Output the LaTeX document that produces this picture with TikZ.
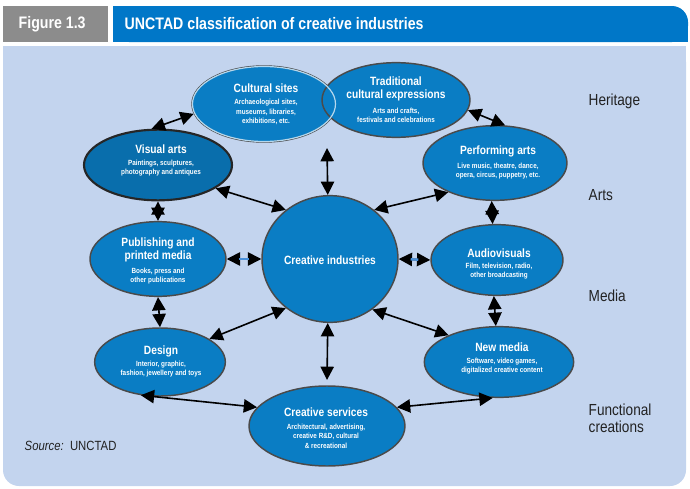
\documentclass[tikz,border=0pt]{standalone}
\usepackage{fontspec}
\setmainfont{Liberation Sans}[FakeStretch=0.85]
\usetikzlibrary{arrows.meta,shapes.geometric}
\definecolor{hblue}{HTML}{0077C8}
\definecolor{hgray}{HTML}{8C8C8C}
\definecolor{bg}{HTML}{C3D4EE}
\definecolor{nfill}{HTML}{0A7DC4}
\definecolor{nline}{HTML}{4A4A4A}
\definecolor{tdark}{HTML}{222222}
\definecolor{lnk}{HTML}{4A90D9}
\begin{document}
\begin{tikzpicture}[x=0.75pt,y=-0.75pt,
  el/.style={ellipse,draw=nline,line width=1.1pt,fill=nfill,inner sep=0pt},
  ttl/.style={font=\bfseries\fontsize{9}{10}\selectfont,text=white,align=center},
  sub/.style={font=\bfseries\fontsize{5.6}{7}\selectfont,text=white,align=center},
  arr/.style={{Triangle[length=10pt,width=10pt]}-{Triangle[length=10pt,width=10pt]},line width=1.2pt,black},
  side/.style={font=\fontsize{12}{14}\selectfont,text=tdark,anchor=west,align=left}]
\useasboundingbox (0,0) rectangle (690,489);
% header
\fill[hgray] (3,6) rectangle (108,42);
\fill[hblue,rounded corners=12pt] (113,6) rectangle (688,42);
\fill[hblue] (113,6) rectangle (640,42);
\fill[hblue] (600,24) rectangle (688,42);
\node[font=\bfseries\fontsize{12.5}{14}\selectfont,text=white,anchor=west] (fig) at (14,24) {Figure 1.3};
\node[font=\bfseries\fontsize{12.5}{14}\selectfont,text=white,anchor=west] (tit) at (120,24) {UNCTAD classification of creative industries};
% panel
\fill[bg,rounded corners=12pt] (3,46) rectangle (686,486);
\fill[bg] (3,46) rectangle (686,200);
% nodes
\node[el,minimum width=108,minimum height=57] (cs) at (264,104) {};
\node[el,minimum width=111,minimum height=56] (tc) at (396,100) {};
\draw[white!70!nfill,line width=0.9pt] (cs.center) ellipse [x radius=71.5,y radius=37.5];
\node[el,minimum width=111,minimum height=53,draw=black!85,line width=1.6pt,fill=nfill!88!black] (va) at (158,165) {};
\node[el,minimum width=108,minimum height=56] (pa) at (495,163) {};
\node[el,minimum width=102,minimum height=56] (pm) at (158,259) {};
\node[el,minimum width=102,minimum height=95] (ci) at (330,259) {};
\node[el,minimum width=99,minimum height=53] (av) at (497,260) {};
\node[el,minimum width=98,minimum height=51] (de) at (160,362) {};
\node[el,minimum width=112,minimum height=53] (nm) at (499,362) {};
\node[el,minimum width=117,minimum height=60] (sv) at (327,426) {};
% texts
\node[ttl] (t1) at (266,88) {Cultural sites};
\node[sub] (s1) at (266,112) {Archaeological sites,\\museums, libraries,\\exhibitions, etc.};
\node[ttl,align=center] (t2) at (396,89) {Traditional\\cultural expressions};
\node[sub] (s2) at (396,115) {Arts and crafts,\\festivals and celebrations};
\node[ttl] (t3) at (161,149) {Visual arts};
\node[sub] (s3) at (161,168) {Paintings, sculptures,\\photography and antiques};
\node[ttl] (t4) at (498,151) {Performing arts};
\node[sub] (s4) at (498,171) {Live music, theatre, dance,\\opera, circus, puppetry, etc.};
\node[ttl] (t5) at (158,250) {Publishing and\\printed media};
\node[sub] (s5) at (158,276) {Books, press and\\other publications};
\node[ttl] (t6) at (330,260) {Creative industries};
\node[ttl] (t7) at (499,253) {Audiovisuals};
\node[sub] (s7) at (499,271) {Film, television, radio,\\other broadcasting};
\node[ttl] (t8) at (161,351) {Design};
\node[sub] (s8) at (161,369) {Interior, graphic,\\fashion, jewellery and toys};
\node[ttl] (t9) at (502,347) {New media};
\node[sub] (s9) at (502,366) {Software, video games,\\digitalized creative content};
\node[ttl] (t10) at (326,412) {Creative services};
\node[sub] (s10) at (326,436) {Architectural, advertising,\\creative R\&D, cultural\\\& recreational};
% side labels
\node[side] (h) at (584,101) {Heritage};
\node[side] (a) at (584,195) {Arts};
\node[side] (m) at (584,296) {Media};
\node[side,font=\fontsize{12}{12.5}\selectfont] (f) at (584,418) {Functional\\creations};
\node[anchor=west,font=\fontsize{10}{12}\selectfont,text=tdark] (src) at (20,446) {\textit{Source:}\ \ UNCTAD};
% arrows
\coordinate (ctop) at (327,148);
\coordinate (cbot) at (327,380);
\draw[arr] (va.100) -- (cs.188);
\draw[arr] (tc.-8) -- (pa.75);
\draw[arr] (va.-22) -- (ci.132);
\draw[arr] (ctop) -- (ci.92);
\draw[arr] (pa.212) -- (ci.48);
\draw[arr] (va.south) -- (pm.north);
\draw[arr] (pa.265) -- (av.97);
\draw[arr] (pm.east) -- (ci.west);
\draw[lnk,line width=1.8pt,shorten >=9pt,shorten <=9pt] (pm.east) -- (ci.west);
\draw[arr] (ci.east) -- (av.west);
\draw[lnk,line width=1.8pt,shorten >=9pt,shorten <=9pt] (ci.east) -- (av.west);
\draw[arr] (pm.south) -- (de.north);
\draw[arr] (av.265) -- (nm.95);
\draw[arr] (ci.228) -- (de.25);
\draw[arr] (ci.268) -- (cbot);
\draw[arr] (ci.310) -- (nm.152);
\draw[arr] (de.240) -- (sv.165);
\draw[arr] (sv.15) -- (nm.-100);
\end{tikzpicture}
\end{document}
